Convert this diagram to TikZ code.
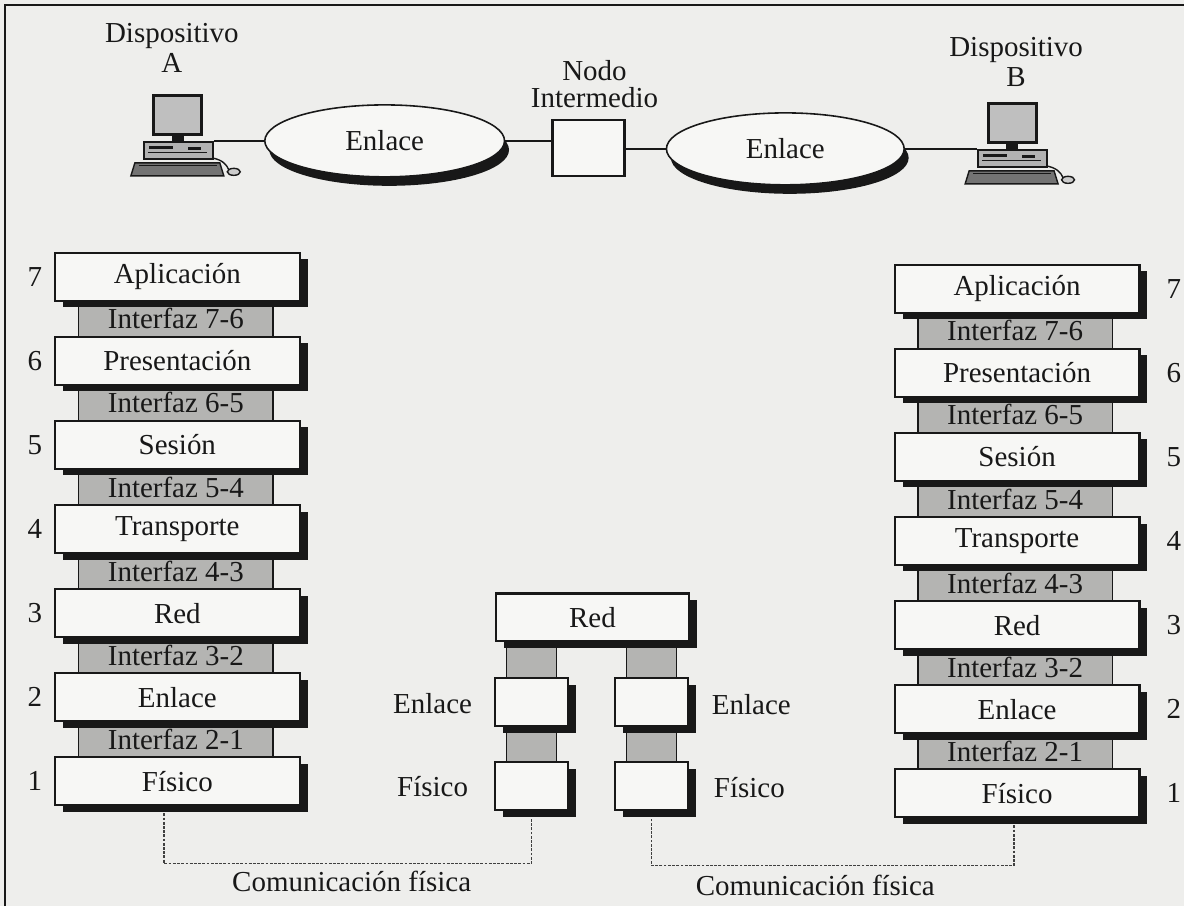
\documentclass[tikz,border=0pt]{standalone}
\usepackage{fontspec}
\setmainfont{Liberation Serif}
\usetikzlibrary{shapes.geometric,shadows}

\definecolor{paper}{RGB}{238,238,236}
\definecolor{boxfill}{RGB}{247,247,245}
\definecolor{ifill}{RGB}{180,180,178}
\definecolor{ink}{RGB}{24,24,24}

\begin{document}
\begin{tikzpicture}[x=0.02cm,y=-0.02cm,
  txt/.style={text=ink, font=\fontsize{16.5}{17.5}\selectfont, inner sep=0pt},
  num/.style={txt},
  shade/.style={drop shadow={shadow xshift=0.16cm, shadow yshift=-0.13cm, opacity=1, fill=ink}},
  layer/.style={txt, shade, draw=ink, line width=1.2pt, fill=boxfill,
                minimum width=4.9cm, minimum height=0.96cm},
  iface/.style={txt, draw=ink, line width=1pt, fill=ifill,
                minimum width=3.9cm, minimum height=0.72cm},
  minibox/.style={layer, minimum width=1.46cm},
  miniface/.style={iface, minimum width=1cm},
  link/.style={txt, ellipse, draw=ink, line width=0.9pt, fill=boxfill,
               drop shadow={shadow xshift=0.09cm, shadow yshift=-0.18cm, opacity=1, fill=ink},
               minimum width=4.8cm, minimum height=1.44cm},
  wire/.style={draw=ink, line width=1.4pt},
  phys/.style={draw=black!75, line width=0.8pt, dash pattern=on 1.6pt off 0.8pt},
  computer/.pic={
    % keyboard and mouse
    \draw[ink, line width=0.8pt, fill=black!55] (-8,22) -- (77,22) -- (81,35) -- (-12,35) -- cycle;
    \draw[ink, line width=0.6pt] (-4,25) -- (74,25);
    \draw[ink, line width=0.8pt] (69,17) .. controls (80,19) and (84,24) .. (86,29);
    \draw[ink, line width=0.8pt, fill=black!20] (91,31) ellipse (0.13cm and 0.07cm);
    % system unit
    \node[draw=ink, line width=1.2pt, fill=black!30, minimum width=1.38cm,
          minimum height=0.34cm, anchor=north west, inner sep=0pt] (-base) at (0,0) {};
    \fill[ink] (6,5) rectangle (30,8);
    \fill[ink] (45,6) rectangle (58,9);
    \draw[ink, line width=0.5pt] (5,12) -- (64,12);
    % monitor
    \fill[ink] (29,-6) rectangle (41,0);
    \node[draw=ink, line width=1.8pt, fill=black!25, minimum width=0.96cm,
          minimum height=0.78cm, anchor=south, inner sep=0pt] (-screen) at (35,-5) {};
  }]

% paper and frame
\fill[paper] (0,0) rectangle (1185,907);
\draw[ink, line width=1.2pt] (5,907) -- (5,5) -- (1185,5);

% ---------- top: devices and links ----------
\node[txt, align=center, font=\fontsize{16.5}{17.5}\selectfont] (DA) at (172,48) {Dispositivo\\A};
\node[txt, align=center, font=\fontsize{16.5}{17.5}\selectfont] (DB) at (1017,62) {Dispositivo\\B};
\node[txt, align=center, font=\fontsize{16.5}{15.5}\selectfont] (NL) at (595,84) {Nodo\\Intermedio};

\pic (A) at (143,141) {computer};
\pic (B) at (978,149) {computer};

\node[link] (E1) at (385,141) {Enlace};
\node[link, minimum width=4.76cm] (E2) at (786,149) {Enlace};
\node[draw=ink, line width=1.4pt, fill=boxfill, minimum width=1.44cm, minimum height=1.12cm] (NI) at (589,148) {};

\draw[wire] (A-base.north east) -- (A-base.north east -| E1.west);
\draw[wire] (E1.east) -- (E1.east -| NI.west);
\draw[wire] (NI.east |- E2.west) -- (E2.west);
\draw[wire] (E2.east) -- (B-base.north west);

% ---------- left stack ----------
\foreach \k/\j in {7/6,6/5,5/4,4/3,3/2,2/1}{
  \pgfmathsetmacro\yy{277+(7-\k)*84.17+42.1}
  \node[iface] (LI\k) at (176,\yy) {Interfaz \k-\j};
}
\foreach \k/\lab in {7/Aplicación,6/Presentación,5/Sesión,4/Transporte,3/Red,2/Enlace,1/Físico}{
  \pgfmathsetmacro\yy{277+(7-\k)*84.17}
  \node[layer] (L\k) at (177.5,\yy) {\lab};
  \node[num] (LN\k) at (35,\yy) {\k};
}

% ---------- right stack ----------
\foreach \k/\j in {7/6,6/5,5/4,4/3,3/2,2/1}{
  \pgfmathsetmacro\yy{289+(7-\k)*84.17+42.1}
  \node[iface] (RI\k) at (1016,\yy) {Interfaz \k-\j};
}
\foreach \k/\lab in {7/Aplicación,6/Presentación,5/Sesión,4/Transporte,3/Red,2/Enlace,1/Físico}{
  \pgfmathsetmacro\yy{289+(7-\k)*84.17}
  \node[layer] (R\k) at (1018,\yy) {\lab};
  \node[num] (RN\k) at (1175,\yy) {\k};
}

% ---------- intermediate node ----------
\node[miniface] (MIa1) at (532,660) {};
\node[miniface] (MIa2) at (532,745) {};
\node[miniface] (MIb1) at (652,660) {};
\node[miniface] (MIb2) at (652,745) {};
\node[layer, minimum width=3.86cm] (MR) at (593,618) {Red};
\node[minibox] (ME1) at (532,703) {};
\node[minibox] (MF1) at (532,787) {};
\node[minibox] (ME2) at (652,703) {};
\node[minibox] (MF2) at (652,787) {};
\node[txt] (TE1) at (433,704) {Enlace};
\node[txt] (TF1) at (433,787) {Físico};
\node[txt] (TE2) at (752,705) {Enlace};
\node[txt] (TF2) at (750,788) {Físico};

% ---------- physical communication ----------
\draw[phys] ([xshift=-0.27cm, yshift=-0.14cm]L1.south) -- ++(0,50)
            -| ([yshift=-0.14cm]MF1.south);
\draw[phys] ([xshift=-0.06cm, yshift=-0.14cm]R1.south) -- ++(0,40)
            -| ([yshift=-0.14cm]MF2.south);
\node[txt] (C1) at (352,882) {Comunicación física};
\node[txt] (C2) at (816,886) {Comunicación física};

\end{tikzpicture}
\end{document}
